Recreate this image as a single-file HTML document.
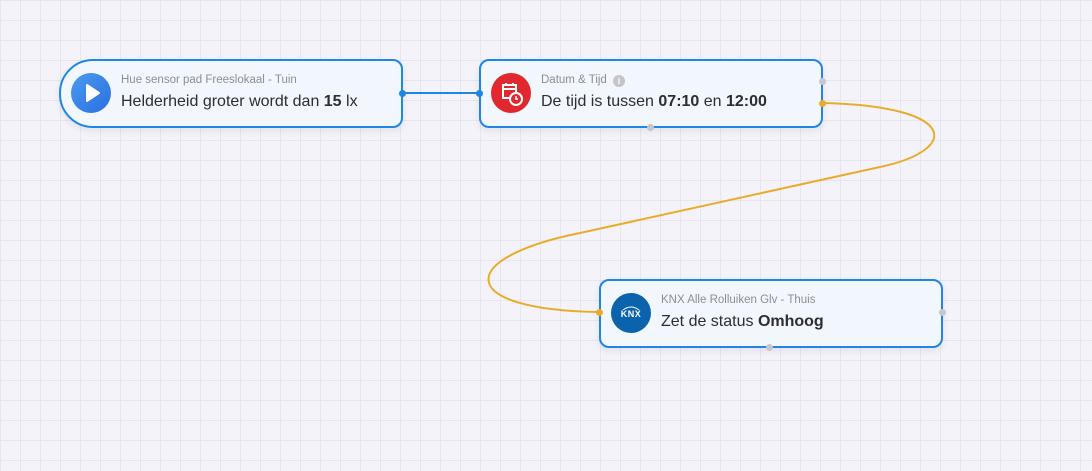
<!DOCTYPE html>
<html><head><meta charset="utf-8"><style>
html,body{margin:0;padding:0;}
body{width:1092px;height:471px;overflow:hidden;position:relative;background-color:#f4f3fa;
background-image:linear-gradient(#e7e6ef 1px,transparent 1px),linear-gradient(90deg,#e7e6ef 1px,transparent 1px);
background-size:20px 20px;background-position:0 0;font-family:"Liberation Sans",Arial,sans-serif;}
.node{position:absolute;box-sizing:border-box;height:69px;border:2px solid #1f86e3;border-radius:10px;background:#f2f7fd;box-shadow:0 3px 8px rgba(0,0,0,0.08);}
.icon{position:absolute;width:40px;height:40px;border-radius:50%;left:10px;top:12px;}
.t{position:absolute;left:60px;top:13px;font-size:11.5px;color:#8d8d93;white-space:nowrap;}
.m{position:absolute;left:60px;top:32px;font-size:16px;color:#2d2d33;white-space:nowrap;}
.m b{font-weight:bold;}
.dot{position:absolute;width:7px;height:7px;border-radius:50%;margin:-3.5px 0 0 -3.5px;}
</style></head><body>
<svg width="1092" height="471" style="position:absolute;left:0;top:0">
<line x1="402" y1="93" x2="479" y2="93" stroke="#1f86e3" stroke-width="2"/>
<path d="M822,103 C960,106 960,150 880,167 L580,233 C455,258 455,310 599,312" fill="none" stroke="#e9ac2a" stroke-width="2"/>
</svg>

<div class="node" style="left:59px;top:59px;width:344px;border-radius:34px 10px 10px 34px;">
<div class="icon" style="background:linear-gradient(135deg,#4a9bf0,#2a6fe0);left:10px;">
<svg width="40" height="40"><path d="M16 12 L28 20 L16 28 Z" fill="#fff" stroke="#fff" stroke-width="2" stroke-linejoin="round"/></svg></div>
<div class="t">Hue sensor pad Freeslokaal - Tuin</div>
<div class="m">Helderheid groter wordt dan <b>15</b> lx</div>
</div>

<div class="node" style="left:479px;top:59px;width:344px;">
<div class="icon" style="background:#e0282e;">
<svg width="40" height="40"><rect x="12" y="12" width="13" height="13" fill="none" stroke="#fff" stroke-width="2"/><line x1="12" y1="16" x2="25" y2="16" stroke="#fff" stroke-width="2"/><line x1="15" y1="10" x2="15" y2="13" stroke="#fff" stroke-width="2"/><line x1="22" y1="10" x2="22" y2="13" stroke="#fff" stroke-width="2"/><circle cx="25" cy="26" r="6" fill="#e0282e" stroke="#fff" stroke-width="2"/><path d="M25 23 V26 H27" fill="none" stroke="#fff" stroke-width="1.5"/></svg></div>
<div class="t">Datum &amp; Tijd <span style="display:inline-block;width:12px;height:12px;border-radius:50%;background:#c4c4c9;color:#fff;font-size:9px;text-align:center;line-height:12px;vertical-align:-1px;margin-left:3px;font-weight:bold">i</span></div>
<div class="m">De tijd is tussen <b>07:10</b> en <b>12:00</b></div>
</div>

<div class="node" style="left:599px;top:279px;width:344px;">
<div class="icon" style="background:#0b62ad;"><div style="position:absolute;left:0;right:0;top:16px;text-align:center;color:#fff;font-size:9px;font-weight:bold;letter-spacing:0.5px">KNX</div>
<svg width="40" height="40" style="position:absolute;left:0;top:0"><path d="M12 17 Q20 11 28 17" fill="none" stroke="#fff" stroke-width="1"/></svg></div>
<div class="t">KNX Alle Rolluiken Glv - Thuis</div>
<div class="m">Zet de status <b>Omhoog</b></div>
</div>

<div class="dot" style="left:402px;top:93px;background:#1f86e3"></div>
<div class="dot" style="left:479px;top:93px;background:#1f86e3"></div>
<div class="dot" style="left:822px;top:81px;background:#c6c6cc"></div>
<div class="dot" style="left:822px;top:103px;background:#e9ac2a"></div>
<div class="dot" style="left:650px;top:127px;background:#c6c6cc"></div>
<div class="dot" style="left:599px;top:312px;background:#e9ac2a"></div>
<div class="dot" style="left:942px;top:312px;background:#c6c6cc"></div>
<div class="dot" style="left:769px;top:347px;background:#c6c6cc"></div>
</body></html>
